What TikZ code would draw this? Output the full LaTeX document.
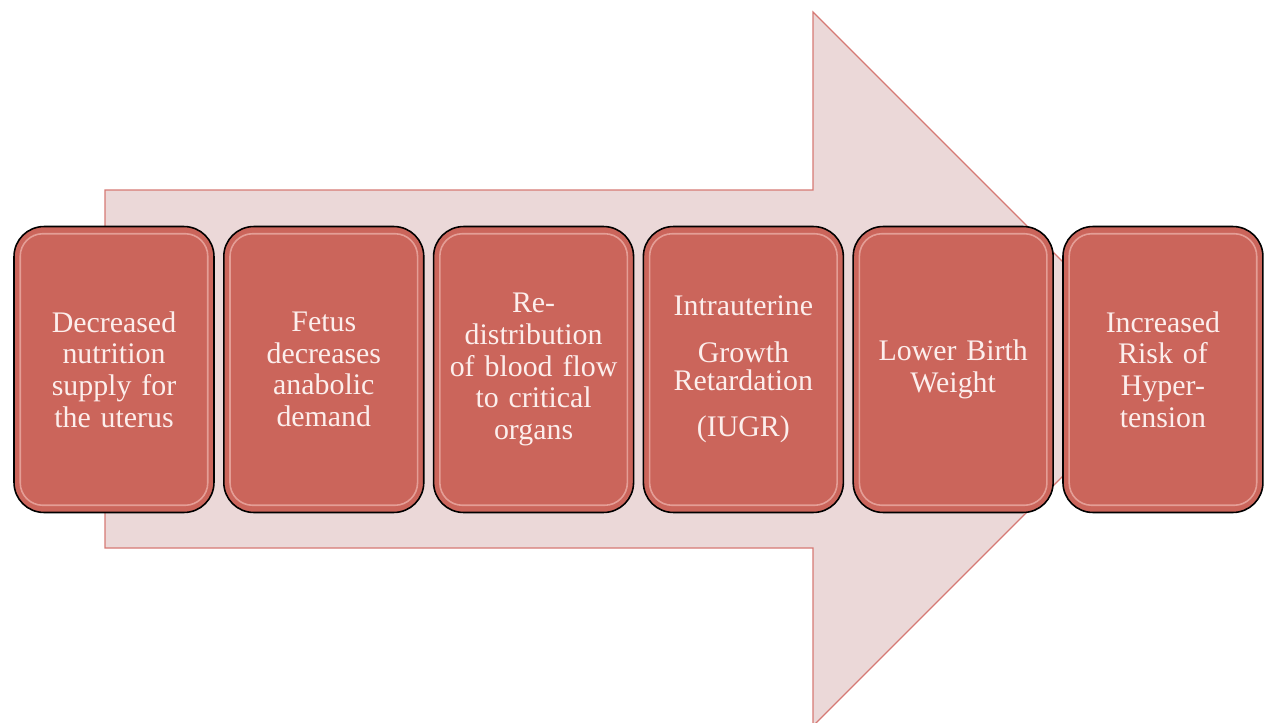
\documentclass[tikz,border=0pt]{standalone}
\usepackage{fontspec}
\setmainfont{Liberation Serif}
\usetikzlibrary{positioning}
\definecolor{colorbox}      {RGB}{203,101,91 }
\definecolor{colorarrow}    {RGB}{235,216,216}
\definecolor{colorarrowline}{RGB}{214,121,116}
\definecolor{colortext}     {RGB}{252,238,236}
\definecolor{colorgloss}    {RGB}{250,205,200}

\begin{document}
\begin{tikzpicture}[
    x=0.02cm, y=-0.02cm,
    node distance = 0.165cm,
    font={\fontsize{17}{18}\selectfont},
    box/.style={text=colortext,fill=colorbox,draw=black,line width=0.9pt,
        rounded corners=0.6cm,minimum width=4cm,minimum height=5.72cm,
        text width=3.7cm,align=center,inner sep=0pt},
    gloss/.style={draw=colorgloss,line width=0.9pt,rounded corners=0.45cm,opacity=0.55},
    bigarrow/.style={fill=colorarrow,draw=colorarrowline,line width=0.7pt},
]
    \useasboundingbox (0,0) rectangle (1264,723);

    % Arrow
    \draw[bigarrow] (105,190) -- (813,190) -- (813,12) -- (1170,369)
        -- (813,726) -- (813,548) -- (105,548) -- cycle;

    % Nodes
    \node[box] (nutrition) at (114,369.5)
        {Decreased\\ nutrition\\ supply for\\ the uterus};
    \node[box,right=of nutrition] (demand)
        {Fetus\\ decreases\\ anabolic\\ demand};
    \node[box,right=of demand]    (bloodflow)
        {Re-\\ distribution\\ of blood flow\\ to critical\\ organs};
    \node[box,right=of bloodflow] (iugr)
        {Intrauterine\\[8.5pt] Growth\\[-2pt] Retardation\\[8.5pt] (IUGR)};
    \node[box,right=of iugr]      (birthweight)
        {Lower Birth\\ Weight};
    \node[box,right=of birthweight] (risk)
        {Increased\\ Risk of\\ Hyper-\\ tension};

    % Gloss
    \foreach \n in {nutrition,demand,bloodflow,iugr,birthweight,risk}
        \draw[gloss] ([shift={(0.14cm,-0.16cm)}]\n.north west)
            rectangle ([shift={(-0.14cm,0.16cm)}]\n.south east);

\end{tikzpicture}
\end{document}
